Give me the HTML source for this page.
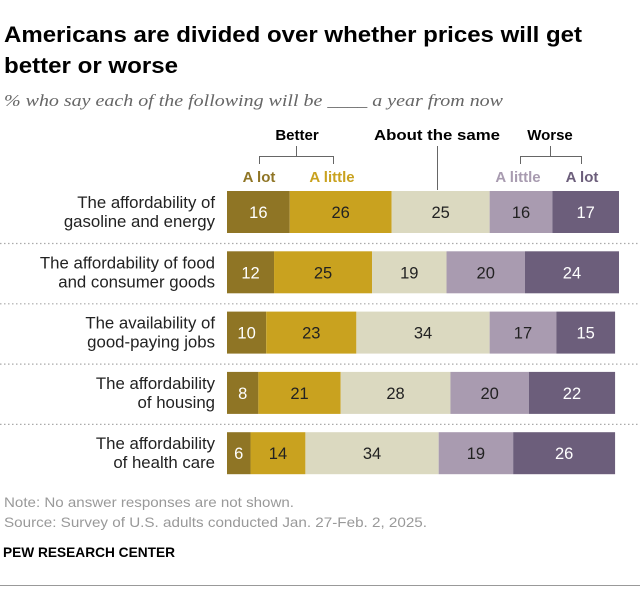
<!DOCTYPE html>
<html><head><meta charset="utf-8"><style>
body{margin:0;background:#fff;width:640px;height:591px;overflow:hidden;font-family:"Liberation Sans",Arial,sans-serif}
</style></head><body>
<svg width="640" height="591" xmlns="http://www.w3.org/2000/svg">
<text x="4" y="42" font-size="22.5" font-weight="bold" fill="#000" textLength="578" lengthAdjust="spacingAndGlyphs">Americans are divided over whether prices will get</text>
<text x="4" y="73" font-size="22.5" font-weight="bold" fill="#000" textLength="174" lengthAdjust="spacingAndGlyphs">better or worse</text>
<text x="4" y="106" font-size="16.5" font-style="italic" fill="#666" font-family="Liberation Serif,serif" textLength="499" lengthAdjust="spacingAndGlyphs">% who say each of the following will be ____ a year from now</text>
<g font-size="15" font-weight="bold" text-anchor="middle">
<text x="297" y="140" fill="#000">Better</text>
<text x="437" y="140" fill="#000" textLength="126" lengthAdjust="spacingAndGlyphs">About the same</text>
<text x="550" y="140" fill="#000">Worse</text>
<text x="259" y="182" fill="#8f7525">A lot</text>
<text x="332" y="182" fill="#c9a21f">A little</text>
<text x="518" y="182" fill="#a89bb0">A little</text>
<text x="582" y="182" fill="#6c5e7b">A lot</text>
</g>
<g stroke="#666" stroke-width="1" fill="none">
<path d="M259.5 164V156.5H333.5V164M296.5 156.5V146"/>
<path d="M437.5 146V190"/>
<path d="M520.5 164V156.5H581.5V164M550.5 156.5V146"/>
</g>
<g id="rows"></g>
<text x="4" y="507" font-size="14" fill="#999" textLength="290" lengthAdjust="spacingAndGlyphs">Note: No answer responses are not shown.</text>
<text x="4" y="527" font-size="14" fill="#999" textLength="423" lengthAdjust="spacingAndGlyphs">Source: Survey of U.S. adults conducted Jan. 27-Feb. 2, 2025.</text>
<text x="3" y="557" font-size="14" font-weight="bold" fill="#000" textLength="172" lengthAdjust="spacingAndGlyphs">PEW RESEARCH CENTER</text>
<line x1="0" y1="585.5" x2="640" y2="585.5" stroke="#999" stroke-width="1"/>
</svg>
<script>
const categories=[["The affordability of","gasoline and energy"],["The affordability of food","and consumer goods"],["The availability of","good-paying jobs"],["The affordability","of housing"],["The affordability","of health care"]];
const betterLot=[16,12,10,8,6];
const betterLittle=[26,25,23,21,14];
const aboutSame=[25,19,34,28,34];
const worseLittle=[16,20,17,20,19];
const worseLot=[17,24,15,22,26];
const series=[betterLot,betterLittle,aboutSame,worseLittle,worseLot];
const colors=["#8f7525","#c9a21f","#dbd9c0","#a99bb0","#6c5e7b"];
const textColors=["#fff","#222","#222","#222","#fff"];
const segNames=["better-a-lot","better-a-little","about-same","worse-a-little","worse-a-lot"];
const NS="http://www.w3.org/2000/svg";
const g=document.getElementById("rows");
const x0=227,scale=3.92,rowTop=191,rowStep=60.3,barH=42;
const xs=v=>v*scale;
function mk(t,a){const e=document.createElementNS(NS,t);for(const k in a)e.setAttribute(k,a[k]);g.appendChild(e);return e;}
categories.forEach((cat,i)=>{
  const y=rowTop+i*rowStep;
  cat.forEach((ln,j)=>{
    const t=mk("text",{x:215,y:y+17+j*19,"font-size":16.8,"text-anchor":"end",fill:"#222"});
    t.textContent=ln;
    
    
  });
  let x=x0;
  series.forEach((s,k)=>{
    const w=xs(s[i]);
    const r=mk("rect",{x:x,y:y,width:w,height:barH,fill:colors[k]});
    
    
    const t=mk("text",{x:x+w/2,y:y+barH/2+6,"font-size":16.5,"text-anchor":"middle",fill:textColors[k]});
    t.textContent=s[i];
    
    
    x+=w;
  });
  if(i<categories.length-1){
    const l=mk("line",{x1:0,x2:640,y1:y+barH+10.5,y2:y+barH+10.5,stroke:"#aaa","stroke-width":1.2,"stroke-dasharray":"1.5 2.5"});
    
    
  }
});
</script>
</body></html>
